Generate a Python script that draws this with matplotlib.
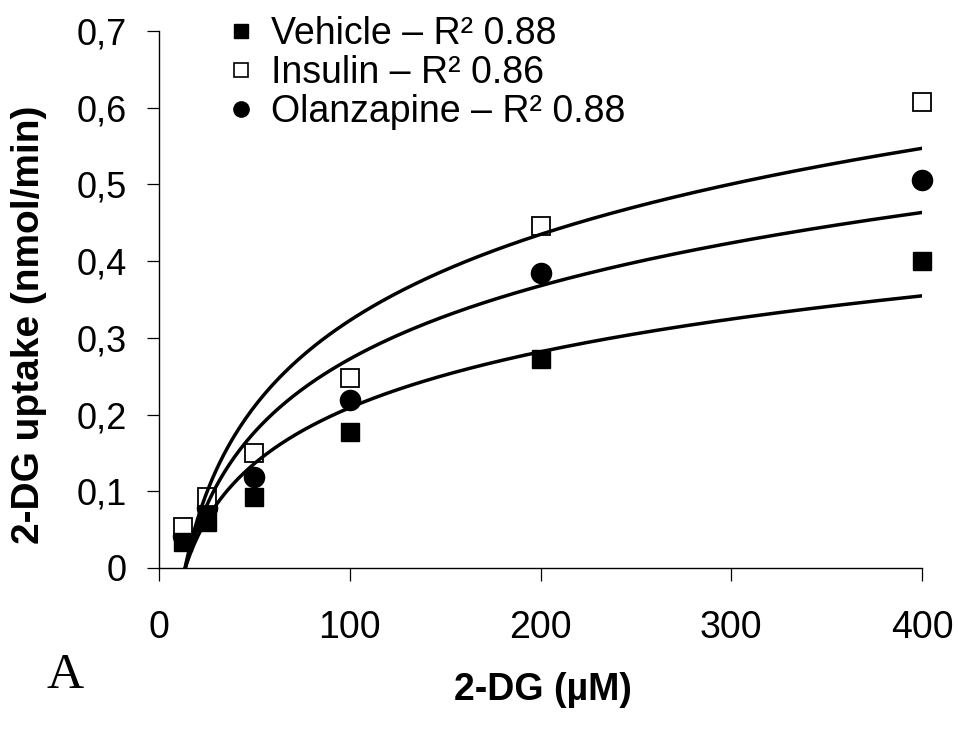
import matplotlib
matplotlib.use("Agg")
import matplotlib.pyplot as plt
from matplotlib.lines import Line2D
import numpy as np

plt.rcParams["font.family"] = ["Liberation Sans", "DejaVu Sans"]

# 2-DG concentrations (uM)
conc = [12.5, 25, 50, 100, 200, 400]

# uptake (nmol/min)
vehicle = [0.034, 0.060, 0.092, 0.177, 0.272, 0.400]
insulin = [0.054, 0.093, 0.150, 0.248, 0.446, 0.608]
olanzapine = [0.042, 0.078, 0.118, 0.219, 0.385, 0.506]

labels = ["Vehicle \u2013 R\u00b2 0.88", "Insulin \u2013 R\u00b2 0.86",
          "Olanzapine \u2013 R\u00b2 0.88"]

y_ticks = [0, 0.1, 0.2, 0.3, 0.4, 0.5, 0.6, 0.7]
y_tick_labels = ["0", "0,1", "0,2", "0,3", "0,4", "0,5", "0,6", "0,7"]
x_ticks = [0, 100, 200, 300, 400]


def log_trend(x, y):
    # excel style logarithmic trendline
    a, b = np.polyfit(np.log(x), y, 1)
    xs = np.linspace(min(x), max(x), 400)
    return xs, a * np.log(xs) + b


fig = plt.figure(figsize=(9.58, 7.34), dpi=100)
ax = fig.add_axes([0.166, 0.2262, 0.7964, 0.7316])

ms = 14.5
ax.plot(conc, olanzapine, "o", color="black", ms=ms, zorder=2, clip_on=False)
ax.plot(conc, insulin, "s", mfc="white", mec="black", mew=1.3, ms=ms - 1,
        zorder=3, clip_on=False)
ax.plot(conc, vehicle, "s", color="black", ms=ms - 1, zorder=4, clip_on=False)

for series in (vehicle, insulin, olanzapine):
    xs, ys = log_trend(conc, series)
    ax.plot(xs, ys, "-", color="black", lw=2.5, zorder=5)

ax.set_xlim(0, 400)
ax.set_ylim(0, 0.7)
ax.set_xticks(x_ticks)
ax.set_yticks(y_ticks)
ax.set_yticklabels(y_tick_labels)

for side in ("top", "right"):
    ax.spines[side].set_visible(False)
for side in ("left", "bottom"):
    ax.spines[side].set_linewidth(1.0)

ax.tick_params(axis="both", direction="out", length=9, width=0.9, labelsize=26)
ax.tick_params(axis="x", labelsize=27, pad=21)
ax.tick_params(axis="y", pad=14)

handles = [
    Line2D([], [], ls="none", marker="s", color="black", ms=10),
    Line2D([], [], ls="none", marker="s", mfc="white", mec="black", mew=1.2, ms=10),
    Line2D([], [], ls="none", marker="o", color="black", ms=11),
]
leg = fig.legend(handles, labels, loc="upper left", bbox_to_anchor=(0.236, 0.983),
                 frameon=False, fontsize=27, handlelength=0.6, handletextpad=0.5,
                 labelspacing=0.08, borderpad=0.1, borderaxespad=0)

fig.text(0.030, 0.557, "2-DG uptake (nmol/min)", rotation=90, ha="center",
         va="center", fontsize=28, fontweight="bold")
fig.text(0.567, 0.060, "2-DG (\u00b5M)", ha="center", va="center",
         fontsize=27, fontweight="bold")
fig.text(0.068, 0.079, "A", ha="center", va="center", fontsize=37,
         family=["Liberation Serif", "DejaVu Serif"])

fig.savefig("out.png", dpi=100)
